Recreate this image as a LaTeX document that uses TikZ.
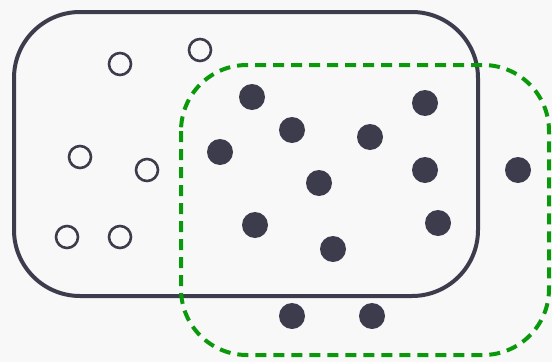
\documentclass[tikz,border=0pt]{standalone}
\definecolor{dark}{HTML}{3D3C4C}
\definecolor{grn}{HTML}{0A990A}
\definecolor{bg}{HTML}{F8F8F8}
\begin{document}
\begin{tikzpicture}[x=1pt,y=-1pt,
  opendot/.style={circle,draw=dark,line width=2.6pt,minimum size=22pt,inner sep=0pt},
  fulldot/.style={circle,fill=dark,minimum size=26pt,inner sep=0pt},
  setA/.style={draw=dark,line width=4pt,rounded corners=66pt},
  setB/.style={draw=grn,line width=4pt,rounded corners=66pt,dash pattern=on 11pt off 7pt}]
\fill[bg] (0,0) rectangle (552,362);
\useasboundingbox (0,0) rectangle (552,362);
\draw[setA] (14,12) rectangle (478,296);
\draw[setB] (181,65) rectangle (549,355);
\node[opendot] (o1) at (120,64) {};
\node[opendot] (o2) at (200,50) {};
\node[opendot] (o3) at (80,157) {};
\node[opendot] (o4) at (147,170) {};
\node[opendot] (o5) at (67,237) {};
\node[opendot] (o6) at (120,237) {};
\node[fulldot] (f1) at (252,97) {};
\node[fulldot] (f2) at (292,130) {};
\node[fulldot] (f3) at (370,137) {};
\node[fulldot] (f4) at (425,103) {};
\node[fulldot] (f5) at (220,152) {};
\node[fulldot] (f6) at (319,183) {};
\node[fulldot] (f7) at (425,170) {};
\node[fulldot] (f8) at (518,170) {};
\node[fulldot] (f9) at (255,225) {};
\node[fulldot] (f10) at (333,249) {};
\node[fulldot] (f11) at (438,223) {};
\node[fulldot] (f12) at (292,316) {};
\node[fulldot] (f13) at (372,316) {};
\end{tikzpicture}
\end{document}
